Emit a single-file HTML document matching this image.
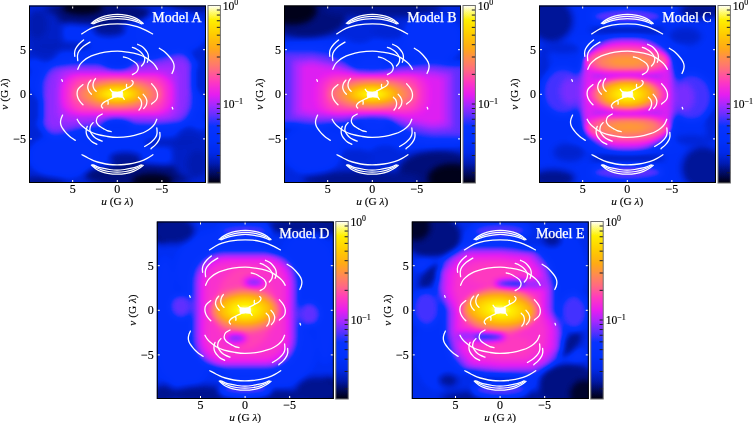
<!DOCTYPE html>
<html><head><meta charset="utf-8"><title>Models A-E</title>
<style>
html,body{margin:0;padding:0;background:#fff}
body{width:753px;height:423px;overflow:hidden;position:relative}
svg{position:absolute;left:0;top:0}
.t{font-family:"Liberation Serif","Times New Roman",serif;font-size:11.3px;fill:#000;stroke:#000;stroke-width:0.15px}
.tk{font-family:"Liberation Serif","Times New Roman",serif;font-size:12px;fill:#000;stroke:#000;stroke-width:0.15px}
.cb{font-family:"Liberation Serif","Times New Roman",serif;font-size:11.6px;fill:#000;stroke:#000;stroke-width:0.15px}
.ttl{font-family:"Liberation Serif","Times New Roman",serif;font-size:14px;fill:#fff;stroke:#fff;stroke-width:0.25px}
</style></head><body>
<svg width="753" height="423" viewBox="0 0 753 423">
<defs>
<linearGradient id="cbg" x1="0" y1="0" x2="0" y2="1"><stop offset="0" stop-color="#fff"/><stop offset="1" stop-color="#000"/></linearGradient>
<filter id="cm" color-interpolation-filters="sRGB"><feComponentTransfer>
<feFuncR type="table" tableValues="0 0 0 0 0 0 0 0 0 0 0 0 0 0 0 0 0 0 0 0 0 0 0 0 0 0.003922 0.007843 0.01176 0.01569 0.01961 0.02353 0.02745 0.03137 0.08824 0.1451 0.202 0.2588 0.3157 0.3725 0.4203 0.468 0.5157 0.5634 0.6111 0.6588 0.7007 0.7425 0.7843 0.8261 0.868 0.9098 0.9227 0.9356 0.9485 0.9613 0.9742 0.9871 1 1 1 1 1 1 1 1 1 1 1 1 1 1 1 1 1 1 1 1 1 1 1 1 1 1 1 1 1 1 1 1 1 1 1 1 1 1 1 1 1 1 1 1"/><feFuncG type="table" tableValues="0 0.006536 0.01307 0.01961 0.02941 0.03922 0.04902 0.05882 0.07157 0.08431 0.09706 0.1098 0.119 0.1281 0.1373 0.1464 0.1556 0.1647 0.1692 0.1737 0.1782 0.1826 0.1871 0.1916 0.1961 0.1971 0.198 0.199 0.2 0.201 0.202 0.2029 0.2039 0.2013 0.1987 0.1961 0.1935 0.1908 0.1882 0.183 0.1778 0.1725 0.1673 0.1621 0.1569 0.1503 0.1438 0.1373 0.1307 0.1242 0.1176 0.1333 0.149 0.1647 0.1804 0.1961 0.2118 0.2275 0.2555 0.2835 0.3115 0.3395 0.3675 0.3955 0.4235 0.4444 0.4654 0.4863 0.5072 0.5281 0.549 0.5686 0.5882 0.6078 0.6275 0.6471 0.6667 0.6838 0.701 0.7181 0.7353 0.7525 0.7696 0.7868 0.8039 0.8211 0.8382 0.8554 0.8725 0.8897 0.9069 0.924 0.9412 0.9529 0.9647 0.9765 0.9882 0.9912 0.9941 0.9971 1"/><feFuncB type="table" tableValues="0.05882 0.1176 0.1765 0.2353 0.2941 0.3529 0.4118 0.4706 0.5294 0.5882 0.6471 0.7059 0.7418 0.7778 0.8137 0.8497 0.8856 0.9216 0.9311 0.9406 0.9501 0.9597 0.9692 0.9787 0.9882 0.9897 0.9912 0.9926 0.9941 0.9956 0.9971 0.9985 1 1 1 1 1 1 1 1 1 1 1 1 1 0.9902 0.9804 0.9706 0.9608 0.951 0.9412 0.9143 0.8874 0.8605 0.8336 0.8067 0.7798 0.7529 0.7171 0.6812 0.6454 0.6095 0.5737 0.5378 0.502 0.4706 0.4392 0.4078 0.3765 0.3451 0.3137 0.2758 0.2379 0.2 0.1621 0.1242 0.08627 0.07549 0.06471 0.05392 0.04314 0.03235 0.02157 0.01078 0 0 0 0 0 0 0 0 0 0.1078 0.2157 0.3235 0.4314 0.5735 0.7157 0.8578 1"/>
</feComponentTransfer></filter>
<radialGradient id="coreA"><stop offset="0" stop-color="rgb(255,255,255)" stop-opacity="1"/><stop offset="0.13" stop-color="rgb(245,245,245)" stop-opacity="1"/><stop offset="0.37" stop-color="rgb(219,219,219)" stop-opacity="1"/><stop offset="0.55" stop-color="rgb(191,191,191)" stop-opacity="1"/><stop offset="0.8" stop-color="rgb(168,168,168)" stop-opacity="1"/><stop offset="1" stop-color="rgb(153,153,153)" stop-opacity="1"/></radialGradient><radialGradient id="coreC"><stop offset="0" stop-color="rgb(255,255,255)" stop-opacity="1"/><stop offset="0.13" stop-color="rgb(245,245,245)" stop-opacity="1"/><stop offset="0.5" stop-color="rgb(217,217,217)" stop-opacity="1"/><stop offset="0.78" stop-color="rgb(191,191,191)" stop-opacity="1"/><stop offset="1" stop-color="rgb(158,158,158)" stop-opacity="1"/></radialGradient><radialGradient id="coreD"><stop offset="0" stop-color="rgb(255,255,255)" stop-opacity="1"/><stop offset="0.2" stop-color="rgb(245,245,245)" stop-opacity="1"/><stop offset="0.65" stop-color="rgb(217,217,217)" stop-opacity="1"/><stop offset="1" stop-color="rgb(191,191,191)" stop-opacity="1"/></radialGradient>
<clipPath id="clipbox"><rect x="0" y="0" width="177" height="177.5"/></clipPath>
<g id="uv" fill="none" stroke="#fff" stroke-width="1.3" stroke-linecap="round">
<g><path d="M-26.00 -71.00C-25.22 -71.57 -22.92 -73.40 -21.30 -74.40C-19.68 -75.40 -18.30 -76.23 -16.30 -77.00C-14.30 -77.77 -12.05 -78.52 -9.30 -79.00C-6.55 -79.48 -2.97 -79.90 0.20 -79.90C3.37 -79.90 6.95 -79.48 9.70 -79.00C12.45 -78.52 14.70 -77.77 16.70 -77.00C18.70 -76.23 20.17 -75.43 21.70 -74.40C23.23 -73.37 25.20 -71.40 25.90 -70.80" stroke-width="1.25"/><path d="M-24.80 -70.70C-24.05 -71.17 -21.88 -72.70 -20.30 -73.50C-18.72 -74.30 -17.30 -74.88 -15.30 -75.50C-13.30 -76.12 -10.88 -76.80 -8.30 -77.20C-5.72 -77.60 -2.63 -77.90 0.20 -77.90C3.03 -77.90 6.12 -77.60 8.70 -77.20C11.28 -76.80 13.70 -76.12 15.70 -75.50C17.70 -74.88 19.12 -74.32 20.70 -73.50C22.28 -72.68 24.45 -71.08 25.20 -70.60" stroke-width="1.25"/><path d="M-23.80 -70.50C-23.05 -70.83 -20.88 -71.93 -19.30 -72.50C-17.72 -73.07 -16.30 -73.45 -14.30 -73.90C-12.30 -74.35 -9.72 -74.88 -7.30 -75.20C-4.88 -75.52 -2.30 -75.80 0.20 -75.80C2.70 -75.80 5.28 -75.52 7.70 -75.20C10.12 -74.88 12.70 -74.35 14.70 -73.90C16.70 -73.45 18.12 -73.08 19.70 -72.50C21.28 -71.92 23.45 -70.75 24.20 -70.40" stroke-width="1.25"/><path d="M-35.60 -60.40C-34.63 -61.02 -31.90 -62.98 -29.80 -64.10C-27.70 -65.22 -25.42 -66.27 -23.00 -67.10C-20.58 -67.93 -17.92 -68.58 -15.30 -69.10C-12.68 -69.62 -9.88 -69.97 -7.30 -70.20C-4.72 -70.43 -2.30 -70.50 0.20 -70.50C2.70 -70.50 5.12 -70.50 7.70 -70.20C10.28 -69.90 13.12 -69.32 15.70 -68.70C18.28 -68.08 20.95 -67.33 23.20 -66.50C25.45 -65.67 27.18 -64.72 29.20 -63.70C31.22 -62.68 34.28 -60.95 35.30 -60.40"/><path d="M-33.70 -54.40C-34.50 -53.68 -37.15 -51.62 -38.50 -50.10C-39.85 -48.58 -41.10 -46.68 -41.80 -45.30C-42.50 -43.92 -42.58 -43.02 -42.70 -41.80C-42.82 -40.58 -42.53 -38.63 -42.50 -38.00"/><path d="M-27.30 -52.20C-28.38 -51.50 -31.97 -49.52 -33.80 -48.00C-35.63 -46.48 -37.30 -44.63 -38.30 -43.10C-39.30 -41.57 -39.60 -40.38 -39.80 -38.80C-40.00 -37.22 -39.55 -34.47 -39.50 -33.60"/><path d="M-39.50 -25.00C-39.13 -25.80 -38.27 -28.37 -37.30 -29.80C-36.33 -31.23 -35.12 -32.42 -33.70 -33.60C-32.28 -34.78 -30.58 -35.93 -28.80 -36.90C-27.02 -37.87 -25.73 -38.53 -23.00 -39.40C-20.27 -40.27 -16.27 -41.48 -12.40 -42.10C-8.53 -42.72 -3.58 -43.10 0.20 -43.10C3.98 -43.10 6.83 -42.63 10.30 -42.10C13.77 -41.57 17.98 -40.80 21.00 -39.90C24.02 -39.00 26.10 -38.02 28.40 -36.70C30.70 -35.38 33.17 -33.40 34.80 -32.00C36.43 -30.60 37.32 -29.47 38.20 -28.30C39.08 -27.13 39.78 -25.55 40.10 -25.00"/><path d="M20.40 -50.00C21.12 -49.63 23.53 -48.58 24.70 -47.80C25.87 -47.02 26.52 -46.30 27.40 -45.30C28.28 -44.30 29.38 -42.97 30.00 -41.80C30.62 -40.63 30.95 -39.47 31.10 -38.30C31.25 -37.13 31.08 -35.85 30.90 -34.80C30.72 -33.75 30.15 -32.47 30.00 -32.00"/><path d="M15.10 -46.90C15.82 -46.60 18.07 -45.82 19.40 -45.10C20.73 -44.38 22.02 -43.57 23.10 -42.60C24.18 -41.63 25.18 -40.37 25.90 -39.30C26.62 -38.23 27.18 -37.20 27.40 -36.20C27.62 -35.20 27.38 -34.18 27.20 -33.30C27.02 -32.42 26.80 -31.73 26.30 -30.90C25.80 -30.07 24.55 -28.73 24.20 -28.30"/><path d="M6.10 -37.30C6.78 -37.13 8.97 -36.75 10.20 -36.30C11.43 -35.85 12.38 -35.23 13.50 -34.60C14.62 -33.97 15.92 -33.20 16.90 -32.50C17.88 -31.80 18.72 -31.38 19.40 -30.40C20.08 -29.42 21.00 -27.93 21.00 -26.60C21.00 -25.27 20.38 -23.55 19.40 -22.40C18.42 -21.25 15.82 -20.15 15.10 -19.70"/><path d="M42.00 -46.00C42.67 -45.58 44.77 -44.42 46.00 -43.50C47.23 -42.58 48.35 -41.53 49.40 -40.50C50.45 -39.47 51.42 -38.37 52.30 -37.30C53.18 -36.23 54.03 -35.17 54.70 -34.10C55.37 -33.03 55.95 -31.97 56.30 -30.90C56.65 -29.83 56.82 -28.80 56.80 -27.70C56.78 -26.60 56.55 -25.45 56.20 -24.30C55.85 -23.15 54.95 -21.38 54.70 -20.80"/><path d="M-55.50 -14.70L-54.90 -13.00"/><path d="M-26.40 -14.20C-26.78 -13.68 -28.17 -12.25 -28.70 -11.10C-29.23 -9.95 -29.53 -8.35 -29.60 -7.30C-29.67 -6.25 -29.37 -5.60 -29.10 -4.80C-28.83 -4.00 -28.53 -3.30 -28.00 -2.50C-27.47 -1.70 -26.25 -0.42 -25.90 0.00"/><path d="M-21.70 -15.80C-22.00 -15.35 -23.07 -14.10 -23.50 -13.10C-23.93 -12.10 -24.22 -10.80 -24.30 -9.80C-24.38 -8.80 -24.22 -7.92 -24.00 -7.10C-23.78 -6.28 -23.48 -5.58 -23.00 -4.90C-22.52 -4.22 -21.42 -3.32 -21.10 -3.00"/><path d="M34.30 -10.50C34.75 -10.00 36.20 -8.57 37.00 -7.50C37.80 -6.43 38.58 -5.22 39.10 -4.10C39.62 -2.98 39.93 -1.87 40.10 -0.80C40.27 0.27 40.22 1.38 40.10 2.30C39.98 3.22 39.75 3.98 39.40 4.70C39.05 5.42 38.85 5.77 38.00 6.60C37.15 7.43 34.92 9.18 34.30 9.70"/><path d="M4.20 -3.30C4.70 -3.53 6.28 -4.23 7.20 -4.70C8.12 -5.17 8.87 -5.67 9.70 -6.10C10.53 -6.53 11.45 -6.87 12.20 -7.30C12.95 -7.73 13.62 -8.12 14.20 -8.70C14.78 -9.28 15.45 -10.17 15.70 -10.80C15.95 -11.43 15.88 -12.02 15.70 -12.50C15.52 -12.98 14.78 -13.50 14.60 -13.70"/><path d="M9.70 -6.10C9.60 -6.42 9.17 -7.37 9.10 -8.00C9.03 -8.63 9.27 -9.58 9.30 -9.90"/><path d="M-5.50 -2.90L-7.00 -5.00"/></g><g transform="rotate(180)"><path d="M-26.00 -71.00C-25.22 -71.57 -22.92 -73.40 -21.30 -74.40C-19.68 -75.40 -18.30 -76.23 -16.30 -77.00C-14.30 -77.77 -12.05 -78.52 -9.30 -79.00C-6.55 -79.48 -2.97 -79.90 0.20 -79.90C3.37 -79.90 6.95 -79.48 9.70 -79.00C12.45 -78.52 14.70 -77.77 16.70 -77.00C18.70 -76.23 20.17 -75.43 21.70 -74.40C23.23 -73.37 25.20 -71.40 25.90 -70.80" stroke-width="1.25"/><path d="M-24.80 -70.70C-24.05 -71.17 -21.88 -72.70 -20.30 -73.50C-18.72 -74.30 -17.30 -74.88 -15.30 -75.50C-13.30 -76.12 -10.88 -76.80 -8.30 -77.20C-5.72 -77.60 -2.63 -77.90 0.20 -77.90C3.03 -77.90 6.12 -77.60 8.70 -77.20C11.28 -76.80 13.70 -76.12 15.70 -75.50C17.70 -74.88 19.12 -74.32 20.70 -73.50C22.28 -72.68 24.45 -71.08 25.20 -70.60" stroke-width="1.25"/><path d="M-23.80 -70.50C-23.05 -70.83 -20.88 -71.93 -19.30 -72.50C-17.72 -73.07 -16.30 -73.45 -14.30 -73.90C-12.30 -74.35 -9.72 -74.88 -7.30 -75.20C-4.88 -75.52 -2.30 -75.80 0.20 -75.80C2.70 -75.80 5.28 -75.52 7.70 -75.20C10.12 -74.88 12.70 -74.35 14.70 -73.90C16.70 -73.45 18.12 -73.08 19.70 -72.50C21.28 -71.92 23.45 -70.75 24.20 -70.40" stroke-width="1.25"/><path d="M-35.60 -60.40C-34.63 -61.02 -31.90 -62.98 -29.80 -64.10C-27.70 -65.22 -25.42 -66.27 -23.00 -67.10C-20.58 -67.93 -17.92 -68.58 -15.30 -69.10C-12.68 -69.62 -9.88 -69.97 -7.30 -70.20C-4.72 -70.43 -2.30 -70.50 0.20 -70.50C2.70 -70.50 5.12 -70.50 7.70 -70.20C10.28 -69.90 13.12 -69.32 15.70 -68.70C18.28 -68.08 20.95 -67.33 23.20 -66.50C25.45 -65.67 27.18 -64.72 29.20 -63.70C31.22 -62.68 34.28 -60.95 35.30 -60.40"/><path d="M-33.70 -54.40C-34.50 -53.68 -37.15 -51.62 -38.50 -50.10C-39.85 -48.58 -41.10 -46.68 -41.80 -45.30C-42.50 -43.92 -42.58 -43.02 -42.70 -41.80C-42.82 -40.58 -42.53 -38.63 -42.50 -38.00"/><path d="M-27.30 -52.20C-28.38 -51.50 -31.97 -49.52 -33.80 -48.00C-35.63 -46.48 -37.30 -44.63 -38.30 -43.10C-39.30 -41.57 -39.60 -40.38 -39.80 -38.80C-40.00 -37.22 -39.55 -34.47 -39.50 -33.60"/><path d="M-39.50 -25.00C-39.13 -25.80 -38.27 -28.37 -37.30 -29.80C-36.33 -31.23 -35.12 -32.42 -33.70 -33.60C-32.28 -34.78 -30.58 -35.93 -28.80 -36.90C-27.02 -37.87 -25.73 -38.53 -23.00 -39.40C-20.27 -40.27 -16.27 -41.48 -12.40 -42.10C-8.53 -42.72 -3.58 -43.10 0.20 -43.10C3.98 -43.10 6.83 -42.63 10.30 -42.10C13.77 -41.57 17.98 -40.80 21.00 -39.90C24.02 -39.00 26.10 -38.02 28.40 -36.70C30.70 -35.38 33.17 -33.40 34.80 -32.00C36.43 -30.60 37.32 -29.47 38.20 -28.30C39.08 -27.13 39.78 -25.55 40.10 -25.00"/><path d="M20.40 -50.00C21.12 -49.63 23.53 -48.58 24.70 -47.80C25.87 -47.02 26.52 -46.30 27.40 -45.30C28.28 -44.30 29.38 -42.97 30.00 -41.80C30.62 -40.63 30.95 -39.47 31.10 -38.30C31.25 -37.13 31.08 -35.85 30.90 -34.80C30.72 -33.75 30.15 -32.47 30.00 -32.00"/><path d="M15.10 -46.90C15.82 -46.60 18.07 -45.82 19.40 -45.10C20.73 -44.38 22.02 -43.57 23.10 -42.60C24.18 -41.63 25.18 -40.37 25.90 -39.30C26.62 -38.23 27.18 -37.20 27.40 -36.20C27.62 -35.20 27.38 -34.18 27.20 -33.30C27.02 -32.42 26.80 -31.73 26.30 -30.90C25.80 -30.07 24.55 -28.73 24.20 -28.30"/><path d="M6.10 -37.30C6.78 -37.13 8.97 -36.75 10.20 -36.30C11.43 -35.85 12.38 -35.23 13.50 -34.60C14.62 -33.97 15.92 -33.20 16.90 -32.50C17.88 -31.80 18.72 -31.38 19.40 -30.40C20.08 -29.42 21.00 -27.93 21.00 -26.60C21.00 -25.27 20.38 -23.55 19.40 -22.40C18.42 -21.25 15.82 -20.15 15.10 -19.70"/><path d="M42.00 -46.00C42.67 -45.58 44.77 -44.42 46.00 -43.50C47.23 -42.58 48.35 -41.53 49.40 -40.50C50.45 -39.47 51.42 -38.37 52.30 -37.30C53.18 -36.23 54.03 -35.17 54.70 -34.10C55.37 -33.03 55.95 -31.97 56.30 -30.90C56.65 -29.83 56.82 -28.80 56.80 -27.70C56.78 -26.60 56.55 -25.45 56.20 -24.30C55.85 -23.15 54.95 -21.38 54.70 -20.80"/><path d="M-55.50 -14.70L-54.90 -13.00"/><path d="M-26.40 -14.20C-26.78 -13.68 -28.17 -12.25 -28.70 -11.10C-29.23 -9.95 -29.53 -8.35 -29.60 -7.30C-29.67 -6.25 -29.37 -5.60 -29.10 -4.80C-28.83 -4.00 -28.53 -3.30 -28.00 -2.50C-27.47 -1.70 -26.25 -0.42 -25.90 0.00"/><path d="M-21.70 -15.80C-22.00 -15.35 -23.07 -14.10 -23.50 -13.10C-23.93 -12.10 -24.22 -10.80 -24.30 -9.80C-24.38 -8.80 -24.22 -7.92 -24.00 -7.10C-23.78 -6.28 -23.48 -5.58 -23.00 -4.90C-22.52 -4.22 -21.42 -3.32 -21.10 -3.00"/><path d="M34.30 -10.50C34.75 -10.00 36.20 -8.57 37.00 -7.50C37.80 -6.43 38.58 -5.22 39.10 -4.10C39.62 -2.98 39.93 -1.87 40.10 -0.80C40.27 0.27 40.22 1.38 40.10 2.30C39.98 3.22 39.75 3.98 39.40 4.70C39.05 5.42 38.85 5.77 38.00 6.60C37.15 7.43 34.92 9.18 34.30 9.70"/><path d="M4.20 -3.30C4.70 -3.53 6.28 -4.23 7.20 -4.70C8.12 -5.17 8.87 -5.67 9.70 -6.10C10.53 -6.53 11.45 -6.87 12.20 -7.30C12.95 -7.73 13.62 -8.12 14.20 -8.70C14.78 -9.28 15.45 -10.17 15.70 -10.80C15.95 -11.43 15.88 -12.02 15.70 -12.50C15.52 -12.98 14.78 -13.50 14.60 -13.70"/><path d="M9.70 -6.10C9.60 -6.42 9.17 -7.37 9.10 -8.00C9.03 -8.63 9.27 -9.58 9.30 -9.90"/><path d="M-5.50 -2.90L-7.00 -5.00"/></g>
<path d="M-5,-2.7 Q0,-1.5 5,-3.1 Q5.7,0 5.4,3.1 Q0,2 -4.6,3.4 Q-5.6,0.4 -5,-2.7Z" fill="#fff" stroke="#fff" stroke-width="0.8"/>
</g>
</defs>

<filter id="fA" x="-0.2" y="-0.2" width="1.4" height="1.4" color-interpolation-filters="sRGB"><feGaussianBlur stdDeviation="3"/><feComponentTransfer><feFuncR type="table" tableValues="0 0 0 0 0 0 0 0 0 0 0 0 0 0 0 0 0 0 0 0 0 0 0 0 0 0.003922 0.007843 0.01176 0.01569 0.01961 0.02353 0.02745 0.03137 0.08824 0.1451 0.202 0.2588 0.3157 0.3725 0.4203 0.468 0.5157 0.5634 0.6111 0.6588 0.7007 0.7425 0.7843 0.8261 0.868 0.9098 0.9227 0.9356 0.9485 0.9613 0.9742 0.9871 1 1 1 1 1 1 1 1 1 1 1 1 1 1 1 1 1 1 1 1 1 1 1 1 1 1 1 1 1 1 1 1 1 1 1 1 1 1 1 1 1 1 1 1"/><feFuncG type="table" tableValues="0 0.003137 0.006275 0.009412 0.01255 0.01569 0.02353 0.03137 0.03922 0.04706 0.0549 0.06499 0.07507 0.08515 0.09524 0.1053 0.1154 0.1255 0.1345 0.1434 0.1524 0.1613 0.1703 0.1793 0.1882 0.1902 0.1922 0.1941 0.1961 0.198 0.2 0.202 0.2039 0.2013 0.1987 0.1961 0.1935 0.1908 0.1882 0.183 0.1778 0.1725 0.1673 0.1621 0.1569 0.1503 0.1438 0.1373 0.1307 0.1242 0.1176 0.1333 0.149 0.1647 0.1804 0.1961 0.2118 0.2275 0.2555 0.2835 0.3115 0.3395 0.3675 0.3955 0.4235 0.4444 0.4654 0.4863 0.5072 0.5281 0.549 0.5686 0.5882 0.6078 0.6275 0.6471 0.6667 0.6838 0.701 0.7181 0.7353 0.7525 0.7696 0.7868 0.8039 0.8211 0.8382 0.8554 0.8725 0.8897 0.9069 0.924 0.9412 0.9529 0.9647 0.9765 0.9882 0.9912 0.9941 0.9971 1"/><feFuncB type="table" tableValues="0.03137 0.06824 0.1051 0.142 0.1788 0.2157 0.2667 0.3176 0.3686 0.4196 0.4706 0.5154 0.5602 0.605 0.6499 0.6947 0.7395 0.7843 0.8123 0.8403 0.8683 0.8964 0.9244 0.9524 0.9804 0.9828 0.9853 0.9877 0.9902 0.9926 0.9951 0.9975 1 1 1 1 1 1 1 1 1 1 1 1 1 0.9902 0.9804 0.9706 0.9608 0.951 0.9412 0.9143 0.8874 0.8605 0.8336 0.8067 0.7798 0.7529 0.7171 0.6812 0.6454 0.6095 0.5737 0.5378 0.502 0.4706 0.4392 0.4078 0.3765 0.3451 0.3137 0.2758 0.2379 0.2 0.1621 0.1242 0.08627 0.07549 0.06471 0.05392 0.04314 0.03235 0.02157 0.01078 0 0 0 0 0 0 0 0 0 0.1078 0.2157 0.3235 0.4314 0.5735 0.7157 0.8578 1"/></feComponentTransfer></filter>
<g transform="translate(29 5.5)">
<g clip-path="url(#clipbox)"><g filter="url(#fA)"><rect x="-30" y="-30" width="237" height="237.5" fill="rgb(48,48,48)"/><g transform="translate(88.3 88.8)"><ellipse cx="-10" cy="-50" rx="60" ry="26" fill="rgb(66,66,66)"/><ellipse cx="55" cy="-62" rx="34" ry="22" fill="rgb(69,69,69)"/><ellipse cx="-5" cy="-30" rx="86" ry="12" fill="rgb(69,69,69)"/><ellipse cx="-60" cy="-12" rx="30" ry="20" fill="rgb(66,66,66)"/><g transform="rotate(180)"><ellipse cx="-10" cy="-50" rx="60" ry="26" fill="rgb(66,66,66)"/><ellipse cx="55" cy="-62" rx="34" ry="22" fill="rgb(69,69,69)"/><ellipse cx="-5" cy="-30" rx="86" ry="12" fill="rgb(69,69,69)"/><ellipse cx="-60" cy="-12" rx="30" ry="20" fill="rgb(66,66,66)"/></g><ellipse cx="-22" cy="-81" rx="55" ry="12" fill="rgb(26,26,26)"/><ellipse cx="-35" cy="-87" rx="20" ry="7" fill="rgb(5,5,5)"/><ellipse cx="75" cy="-88" rx="24" ry="6" fill="rgb(31,31,31)"/><ellipse cx="-72" cy="-58" rx="18" ry="26" fill="rgb(43,43,43)"/><ellipse cx="-80" cy="-70" rx="10" ry="14" fill="rgb(38,38,38)"/><ellipse cx="-55" cy="-48" rx="30" ry="5" fill="rgb(41,41,41)"/><ellipse cx="-8" cy="-64" rx="17" ry="7" fill="rgb(33,33,33)"/><g transform="rotate(180)"><ellipse cx="-22" cy="-81" rx="55" ry="12" fill="rgb(26,26,26)"/><ellipse cx="-35" cy="-87" rx="20" ry="7" fill="rgb(5,5,5)"/><ellipse cx="75" cy="-88" rx="24" ry="6" fill="rgb(31,31,31)"/><ellipse cx="-72" cy="-58" rx="18" ry="26" fill="rgb(43,43,43)"/><ellipse cx="-80" cy="-70" rx="10" ry="14" fill="rgb(38,38,38)"/><ellipse cx="-55" cy="-48" rx="30" ry="5" fill="rgb(41,41,41)"/><ellipse cx="-8" cy="-64" rx="17" ry="7" fill="rgb(33,33,33)"/></g><path d="M-76,0 L-76,-12 L-72,-22 L-65,-29 L-43,-31 L-18,-31 L-8,-27 L2,-29 L17,-33 L37,-35 L52,-40 L62,-42 L72,-40 L76,-30 L76,0 L76,0 L76,12 L72,22 L65,29 L43,31 L18,31 L8,27 L-2,29 L-17,33 L-37,35 L-52,40 L-62,42 L-72,40 L-76,30 L-76,0Z" fill="rgb(97,97,97)"/><path d="M-72,0 L-70,-14 L-66,-21 L-58,-26 L-43,-28 L-18,-28 L-8,-25 L2,-27 L17,-30 L37,-32 L52,-35 L62,-36 L70,-33 L72,-26 L72,0 L72,0 L70,14 L66,21 L58,26 L43,28 L18,28 L8,25 L-2,27 L-17,30 L-37,32 L-52,35 L-62,36 L-70,33 L-72,26 L-72,0Z" fill="rgb(107,107,107)"/><path d="M-60,0 L-59,-18 L-54,-24 L-40,-25 L-18,-24 L18,-25 L40,-27 L54,-27 L60,-20 L60,0 L60,0 L59,18 L54,24 L40,25 L18,24 L-18,25 L-40,27 L-54,27 L-60,20 L-60,0Z" fill="rgb(115,115,115)"/><ellipse cx="1" cy="-32" rx="14" ry="7" fill="rgb(61,61,61)"/><g transform="rotate(180)"><ellipse cx="1" cy="-32" rx="14" ry="7" fill="rgb(61,61,61)"/></g><rect x="-56" y="-20" width="112" height="40" rx="15" fill="rgb(133,133,133)"/><rect x="-48" y="-18" width="96" height="36" rx="14" fill="rgb(148,148,148)"/><ellipse cx="0" cy="-0.3" rx="46" ry="16" fill="url(#coreA)"/></g></g>
<use href="#uv" transform="translate(88.3 88.8)"/>
<path d="M43.70 0v3M43.70 177.50v-3M0 44.20h3M177.00 44.20h-3M88.30 0v3M88.30 177.50v-3M0 88.80h3M177.00 88.80h-3M132.90 0v3M132.90 177.50v-3M0 133.40h3M177.00 133.40h-3" stroke="#fff" stroke-width="1"/>
<text x="172.7" y="16" text-anchor="end" class="ttl">Model A</text>
</g>
<rect x="0.5" y="0.5" width="176" height="176.5" fill="none" stroke="#000" stroke-width="1"/>
</g>
<rect x="208.00" y="5.50" width="12.4" height="177.50" fill="url(#cbg)" filter="url(#cm)"/><line x1="216.80" x2="220.40" y1="104.00" y2="104.00" stroke="#1a1a2a" stroke-width="1"/><line x1="216.80" x2="220.40" y1="74.35" y2="74.35" stroke="#1a1a2a" stroke-width="1"/><line x1="216.80" x2="220.40" y1="57.00" y2="57.00" stroke="#1a1a2a" stroke-width="1"/><line x1="216.80" x2="220.40" y1="44.70" y2="44.70" stroke="#1a1a2a" stroke-width="1"/><line x1="216.80" x2="220.40" y1="35.15" y2="35.15" stroke="#1a1a2a" stroke-width="1"/><line x1="216.80" x2="220.40" y1="27.35" y2="27.35" stroke="#1a1a2a" stroke-width="1"/><line x1="216.80" x2="220.40" y1="20.76" y2="20.76" stroke="#1a1a2a" stroke-width="1"/><line x1="216.80" x2="220.40" y1="15.05" y2="15.05" stroke="#1a1a2a" stroke-width="1"/><line x1="216.80" x2="220.40" y1="10.01" y2="10.01" stroke="#1a1a2a" stroke-width="1"/><line x1="216.80" x2="220.40" y1="172.85" y2="172.85" stroke="#1a1a2a" stroke-width="1"/><line x1="216.80" x2="220.40" y1="155.50" y2="155.50" stroke="#1a1a2a" stroke-width="1"/><line x1="216.80" x2="220.40" y1="143.20" y2="143.20" stroke="#1a1a2a" stroke-width="1"/><line x1="216.80" x2="220.40" y1="133.65" y2="133.65" stroke="#1a1a2a" stroke-width="1"/><line x1="216.80" x2="220.40" y1="125.85" y2="125.85" stroke="#1a1a2a" stroke-width="1"/><line x1="216.80" x2="220.40" y1="119.26" y2="119.26" stroke="#1a1a2a" stroke-width="1"/><line x1="216.80" x2="220.40" y1="113.55" y2="113.55" stroke="#1a1a2a" stroke-width="1"/><line x1="216.80" x2="220.40" y1="108.51" y2="108.51" stroke="#1a1a2a" stroke-width="1"/><rect x="208.00" y="5.50" width="12.4" height="177.50" fill="none" stroke="#707070" stroke-width="1"/><text x="222.70" y="9.60" class="cb">10<tspan dy="-4.2" font-size="7.8">0</tspan></text><text x="222.90" y="108.10" class="cb">10<tspan dy="-4.6" font-size="8">−1</tspan></text>
<text x="72.70" y="193.10" text-anchor="middle" class="tk">5</text><text x="117.30" y="193.10" text-anchor="middle" class="tk">0</text><text x="161.90" y="193.10" text-anchor="middle" class="tk">−5</text><text x="26.00" y="53.50" text-anchor="end" class="tk">5</text><text x="26.00" y="98.10" text-anchor="end" class="tk">0</text><text x="26.00" y="142.70" text-anchor="end" class="tk">−5</text><text x="117.30" y="204.80" text-anchor="middle" class="t"><tspan font-style="italic">u</tspan> (G <tspan font-style="italic">λ</tspan>)</text><text transform="translate(8.20 94.00) rotate(-90)" text-anchor="middle" class="t"><tspan font-style="italic">v</tspan> (G <tspan font-style="italic">λ</tspan>)</text>
<filter id="fB" x="-0.2" y="-0.2" width="1.4" height="1.4" color-interpolation-filters="sRGB"><feGaussianBlur stdDeviation="3"/><feComponentTransfer><feFuncR type="table" tableValues="0 0 0 0 0 0 0 0 0 0 0 0 0 0 0 0 0 0 0 0 0 0 0 0 0 0.003922 0.007843 0.01176 0.01569 0.01961 0.02353 0.02745 0.03137 0.08824 0.1451 0.202 0.2588 0.3157 0.3725 0.4203 0.468 0.5157 0.5634 0.6111 0.6588 0.7007 0.7425 0.7843 0.8261 0.868 0.9098 0.9227 0.9356 0.9485 0.9613 0.9742 0.9871 1 1 1 1 1 1 1 1 1 1 1 1 1 1 1 1 1 1 1 1 1 1 1 1 1 1 1 1 1 1 1 1 1 1 1 1 1 1 1 1 1 1 1 1"/><feFuncG type="table" tableValues="0 0.003137 0.006275 0.009412 0.01255 0.01569 0.02353 0.03137 0.03922 0.04706 0.0549 0.06499 0.07507 0.08515 0.09524 0.1053 0.1154 0.1255 0.1345 0.1434 0.1524 0.1613 0.1703 0.1793 0.1882 0.1902 0.1922 0.1941 0.1961 0.198 0.2 0.202 0.2039 0.2013 0.1987 0.1961 0.1935 0.1908 0.1882 0.183 0.1778 0.1725 0.1673 0.1621 0.1569 0.1503 0.1438 0.1373 0.1307 0.1242 0.1176 0.1333 0.149 0.1647 0.1804 0.1961 0.2118 0.2275 0.2555 0.2835 0.3115 0.3395 0.3675 0.3955 0.4235 0.4444 0.4654 0.4863 0.5072 0.5281 0.549 0.5686 0.5882 0.6078 0.6275 0.6471 0.6667 0.6838 0.701 0.7181 0.7353 0.7525 0.7696 0.7868 0.8039 0.8211 0.8382 0.8554 0.8725 0.8897 0.9069 0.924 0.9412 0.9529 0.9647 0.9765 0.9882 0.9912 0.9941 0.9971 1"/><feFuncB type="table" tableValues="0.03137 0.06824 0.1051 0.142 0.1788 0.2157 0.2667 0.3176 0.3686 0.4196 0.4706 0.5154 0.5602 0.605 0.6499 0.6947 0.7395 0.7843 0.8123 0.8403 0.8683 0.8964 0.9244 0.9524 0.9804 0.9828 0.9853 0.9877 0.9902 0.9926 0.9951 0.9975 1 1 1 1 1 1 1 1 1 1 1 1 1 0.9902 0.9804 0.9706 0.9608 0.951 0.9412 0.9143 0.8874 0.8605 0.8336 0.8067 0.7798 0.7529 0.7171 0.6812 0.6454 0.6095 0.5737 0.5378 0.502 0.4706 0.4392 0.4078 0.3765 0.3451 0.3137 0.2758 0.2379 0.2 0.1621 0.1242 0.08627 0.07549 0.06471 0.05392 0.04314 0.03235 0.02157 0.01078 0 0 0 0 0 0 0 0 0 0.1078 0.2157 0.3235 0.4314 0.5735 0.7157 0.8578 1"/></feComponentTransfer></filter>
<g transform="translate(284 5.5)">
<g clip-path="url(#clipbox)"><g filter="url(#fB)"><rect x="-30" y="-30" width="237" height="237.5" fill="rgb(51,51,51)"/><g transform="translate(88.3 88.8)"><ellipse cx="-10" cy="-44" rx="80" ry="12" fill="rgb(66,66,66)"/><ellipse cx="60" cy="-55" rx="30" ry="25" fill="rgb(69,69,69)"/><ellipse cx="-70" cy="-44" rx="30" ry="8" fill="rgb(76,76,76)"/><g transform="rotate(180)"><ellipse cx="-10" cy="-44" rx="80" ry="12" fill="rgb(66,66,66)"/><ellipse cx="60" cy="-55" rx="30" ry="25" fill="rgb(69,69,69)"/><ellipse cx="-70" cy="-44" rx="30" ry="8" fill="rgb(76,76,76)"/></g><ellipse cx="-66" cy="-76" rx="40" ry="20" fill="rgb(26,26,26)"/><ellipse cx="-80" cy="-84" rx="24" ry="14" fill="rgb(5,5,5)"/><ellipse cx="10" cy="-85" rx="60" ry="9" fill="rgb(31,31,31)"/><ellipse cx="16" cy="-62" rx="16" ry="8" fill="rgb(48,48,48)"/><ellipse cx="-13" cy="-57" rx="14" ry="7" fill="rgb(51,51,51)"/><g transform="rotate(180)"><ellipse cx="-66" cy="-76" rx="40" ry="20" fill="rgb(26,26,26)"/><ellipse cx="-80" cy="-84" rx="24" ry="14" fill="rgb(5,5,5)"/><ellipse cx="10" cy="-85" rx="60" ry="9" fill="rgb(31,31,31)"/><ellipse cx="16" cy="-62" rx="16" ry="8" fill="rgb(48,48,48)"/><ellipse cx="-13" cy="-57" rx="14" ry="7" fill="rgb(51,51,51)"/></g><path d="M-95,0 L-95,-43 L-60,-43 L-41,-40 L-25,-32 L-15,-26 L0,-24 L15,-27 L25,-30 L41,-31 L60,-31 L95,-30 L95,0 L95,0 L95,43 L60,43 L41,40 L25,32 L15,26 L0,24 L-15,27 L-25,30 L-41,31 L-60,31 L-95,30 L-95,0Z" fill="rgb(97,97,97)"/><path d="M-80,0 L-80,-34 L-60,-36 L-35,-30 L-12,-22 L10,-22 L30,-25 L60,-25 L80,-22 L80,0 L80,0 L80,34 L60,36 L35,30 L12,22 L-10,22 L-30,25 L-60,25 L-80,22 L-80,0Z" fill="rgb(112,112,112)"/><path d="M-72,0 L-72,-29 L-60,-31 L-35,-26 L-12,-19 L10,-19 L30,-21 L60,-20 L72,-17 L72,0 L72,0 L72,29 L60,31 L35,26 L12,19 L-10,19 L-30,21 L-60,20 L-72,17 L-72,0Z" fill="rgb(125,125,125)"/><ellipse cx="-2" cy="-31" rx="14" ry="6" fill="rgb(76,76,76)"/><g transform="rotate(180)"><ellipse cx="-2" cy="-31" rx="14" ry="6" fill="rgb(76,76,76)"/></g><rect x="-56" y="-19" width="112" height="38" rx="14" fill="rgb(135,135,135)"/><rect x="-48" y="-18" width="96" height="36" rx="14" fill="rgb(148,148,148)"/><ellipse cx="0" cy="-0.3" rx="46" ry="16" fill="url(#coreA)"/></g></g>
<use href="#uv" transform="translate(88.3 88.8)"/>
<path d="M43.70 0v3M43.70 177.50v-3M0 44.20h3M177.00 44.20h-3M88.30 0v3M88.30 177.50v-3M0 88.80h3M177.00 88.80h-3M132.90 0v3M132.90 177.50v-3M0 133.40h3M177.00 133.40h-3" stroke="#fff" stroke-width="1"/>
<text x="172.7" y="16" text-anchor="end" class="ttl">Model B</text>
</g>
<rect x="0.5" y="0.5" width="176" height="176.5" fill="none" stroke="#000" stroke-width="1"/>
</g>
<rect x="463.00" y="5.50" width="12.4" height="177.50" fill="url(#cbg)" filter="url(#cm)"/><line x1="471.80" x2="475.40" y1="104.00" y2="104.00" stroke="#1a1a2a" stroke-width="1"/><line x1="471.80" x2="475.40" y1="74.35" y2="74.35" stroke="#1a1a2a" stroke-width="1"/><line x1="471.80" x2="475.40" y1="57.00" y2="57.00" stroke="#1a1a2a" stroke-width="1"/><line x1="471.80" x2="475.40" y1="44.70" y2="44.70" stroke="#1a1a2a" stroke-width="1"/><line x1="471.80" x2="475.40" y1="35.15" y2="35.15" stroke="#1a1a2a" stroke-width="1"/><line x1="471.80" x2="475.40" y1="27.35" y2="27.35" stroke="#1a1a2a" stroke-width="1"/><line x1="471.80" x2="475.40" y1="20.76" y2="20.76" stroke="#1a1a2a" stroke-width="1"/><line x1="471.80" x2="475.40" y1="15.05" y2="15.05" stroke="#1a1a2a" stroke-width="1"/><line x1="471.80" x2="475.40" y1="10.01" y2="10.01" stroke="#1a1a2a" stroke-width="1"/><line x1="471.80" x2="475.40" y1="172.85" y2="172.85" stroke="#1a1a2a" stroke-width="1"/><line x1="471.80" x2="475.40" y1="155.50" y2="155.50" stroke="#1a1a2a" stroke-width="1"/><line x1="471.80" x2="475.40" y1="143.20" y2="143.20" stroke="#1a1a2a" stroke-width="1"/><line x1="471.80" x2="475.40" y1="133.65" y2="133.65" stroke="#1a1a2a" stroke-width="1"/><line x1="471.80" x2="475.40" y1="125.85" y2="125.85" stroke="#1a1a2a" stroke-width="1"/><line x1="471.80" x2="475.40" y1="119.26" y2="119.26" stroke="#1a1a2a" stroke-width="1"/><line x1="471.80" x2="475.40" y1="113.55" y2="113.55" stroke="#1a1a2a" stroke-width="1"/><line x1="471.80" x2="475.40" y1="108.51" y2="108.51" stroke="#1a1a2a" stroke-width="1"/><rect x="463.00" y="5.50" width="12.4" height="177.50" fill="none" stroke="#707070" stroke-width="1"/><text x="477.70" y="9.60" class="cb">10<tspan dy="-4.2" font-size="7.8">0</tspan></text><text x="477.90" y="108.10" class="cb">10<tspan dy="-4.6" font-size="8">−1</tspan></text>
<text x="327.70" y="193.10" text-anchor="middle" class="tk">5</text><text x="372.30" y="193.10" text-anchor="middle" class="tk">0</text><text x="416.90" y="193.10" text-anchor="middle" class="tk">−5</text><text x="281.00" y="53.50" text-anchor="end" class="tk">5</text><text x="281.00" y="98.10" text-anchor="end" class="tk">0</text><text x="281.00" y="142.70" text-anchor="end" class="tk">−5</text><text x="372.30" y="204.80" text-anchor="middle" class="t"><tspan font-style="italic">u</tspan> (G <tspan font-style="italic">λ</tspan>)</text><text transform="translate(263.20 94.00) rotate(-90)" text-anchor="middle" class="t"><tspan font-style="italic">v</tspan> (G <tspan font-style="italic">λ</tspan>)</text>
<filter id="fC" x="-0.2" y="-0.2" width="1.4" height="1.4" color-interpolation-filters="sRGB"><feGaussianBlur stdDeviation="3"/><feComponentTransfer><feFuncR type="table" tableValues="0 0 0 0 0 0 0 0 0 0 0 0 0 0 0 0 0 0 0 0 0 0 0 0 0 0.003922 0.007843 0.01176 0.01569 0.01961 0.02353 0.02745 0.03137 0.08824 0.1451 0.202 0.2588 0.3157 0.3725 0.4203 0.468 0.5157 0.5634 0.6111 0.6588 0.7007 0.7425 0.7843 0.8261 0.868 0.9098 0.9227 0.9356 0.9485 0.9613 0.9742 0.9871 1 1 1 1 1 1 1 1 1 1 1 1 1 1 1 1 1 1 1 1 1 1 1 1 1 1 1 1 1 1 1 1 1 1 1 1 1 1 1 1 1 1 1 1"/><feFuncG type="table" tableValues="0 0.003137 0.006275 0.009412 0.01255 0.01569 0.02353 0.03137 0.03922 0.04706 0.0549 0.06499 0.07507 0.08515 0.09524 0.1053 0.1154 0.1255 0.1345 0.1434 0.1524 0.1613 0.1703 0.1793 0.1882 0.1902 0.1922 0.1941 0.1961 0.198 0.2 0.202 0.2039 0.2013 0.1987 0.1961 0.1935 0.1908 0.1882 0.183 0.1778 0.1725 0.1673 0.1621 0.1569 0.1503 0.1438 0.1373 0.1307 0.1242 0.1176 0.1333 0.149 0.1647 0.1804 0.1961 0.2118 0.2275 0.2555 0.2835 0.3115 0.3395 0.3675 0.3955 0.4235 0.4444 0.4654 0.4863 0.5072 0.5281 0.549 0.5686 0.5882 0.6078 0.6275 0.6471 0.6667 0.6838 0.701 0.7181 0.7353 0.7525 0.7696 0.7868 0.8039 0.8211 0.8382 0.8554 0.8725 0.8897 0.9069 0.924 0.9412 0.9529 0.9647 0.9765 0.9882 0.9912 0.9941 0.9971 1"/><feFuncB type="table" tableValues="0.03137 0.06824 0.1051 0.142 0.1788 0.2157 0.2667 0.3176 0.3686 0.4196 0.4706 0.5154 0.5602 0.605 0.6499 0.6947 0.7395 0.7843 0.8123 0.8403 0.8683 0.8964 0.9244 0.9524 0.9804 0.9828 0.9853 0.9877 0.9902 0.9926 0.9951 0.9975 1 1 1 1 1 1 1 1 1 1 1 1 1 0.9902 0.9804 0.9706 0.9608 0.951 0.9412 0.9143 0.8874 0.8605 0.8336 0.8067 0.7798 0.7529 0.7171 0.6812 0.6454 0.6095 0.5737 0.5378 0.502 0.4706 0.4392 0.4078 0.3765 0.3451 0.3137 0.2758 0.2379 0.2 0.1621 0.1242 0.08627 0.07549 0.06471 0.05392 0.04314 0.03235 0.02157 0.01078 0 0 0 0 0 0 0 0 0 0.1078 0.2157 0.3235 0.4314 0.5735 0.7157 0.8578 1"/></feComponentTransfer></filter>
<g transform="translate(539 5.5)">
<g clip-path="url(#clipbox)"><g filter="url(#fC)"><rect x="-30" y="-30" width="237" height="237.5" fill="rgb(61,61,61)"/><g transform="translate(88.3 88.8)"><ellipse cx="0" cy="-48" rx="60" ry="10" fill="rgb(69,69,69)"/><ellipse cx="-84" cy="-84" rx="16" ry="16" fill="rgb(10,10,10)"/><ellipse cx="-76" cy="-74" rx="22" ry="22" fill="rgb(33,33,33)"/><ellipse cx="58" cy="-58" rx="16" ry="9" fill="rgb(46,46,46)"/><ellipse cx="-64" cy="-46" rx="18" ry="5" fill="rgb(48,48,48)"/><ellipse cx="-84" cy="-20" rx="6" ry="30" fill="rgb(48,48,48)"/><ellipse cx="74" cy="-84" rx="22" ry="9" fill="rgb(31,31,31)"/><ellipse cx="0" cy="-64" rx="38" ry="4" fill="rgb(38,38,38)"/><g transform="rotate(180)"><ellipse cx="0" cy="-48" rx="60" ry="10" fill="rgb(69,69,69)"/><ellipse cx="-84" cy="-84" rx="16" ry="16" fill="rgb(10,10,10)"/><ellipse cx="-76" cy="-74" rx="22" ry="22" fill="rgb(33,33,33)"/><ellipse cx="58" cy="-58" rx="16" ry="9" fill="rgb(46,46,46)"/><ellipse cx="-64" cy="-46" rx="18" ry="5" fill="rgb(48,48,48)"/><ellipse cx="-84" cy="-20" rx="6" ry="30" fill="rgb(48,48,48)"/><ellipse cx="74" cy="-84" rx="22" ry="9" fill="rgb(31,31,31)"/><ellipse cx="0" cy="-64" rx="38" ry="4" fill="rgb(38,38,38)"/></g><ellipse cx="0" cy="-78" rx="36" ry="8" fill="rgb(97,97,97)"/><ellipse cx="-64" cy="-3" rx="22" ry="24" fill="rgb(92,92,92)"/><ellipse cx="-57" cy="-3" rx="10" ry="14" fill="rgb(102,102,102)"/><g transform="rotate(180)"><ellipse cx="0" cy="-78" rx="36" ry="8" fill="rgb(97,97,97)"/><ellipse cx="-64" cy="-3" rx="22" ry="24" fill="rgb(92,92,92)"/><ellipse cx="-57" cy="-3" rx="10" ry="14" fill="rgb(102,102,102)"/></g><rect x="-48" y="-58" width="96" height="116" rx="42" fill="rgb(107,107,107)"/><rect x="-44" y="-53" width="88" height="106" rx="38" fill="rgb(125,125,125)"/><ellipse cx="0" cy="-34" rx="43" ry="14" fill="rgb(156,156,156)"/><ellipse cx="-1" cy="-33" rx="30" ry="8.5" fill="rgb(176,176,176)"/><ellipse cx="-1" cy="-33" rx="18" ry="5" fill="rgb(186,186,186)"/><g transform="rotate(180)"><ellipse cx="0" cy="-34" rx="43" ry="14" fill="rgb(156,156,156)"/><ellipse cx="-1" cy="-33" rx="30" ry="8.5" fill="rgb(176,176,176)"/><ellipse cx="-1" cy="-33" rx="18" ry="5" fill="rgb(186,186,186)"/></g><ellipse cx="0" cy="-19.5" rx="36" ry="2.2" fill="rgb(102,102,102)"/><g transform="rotate(180)"><ellipse cx="0" cy="-19.5" rx="36" ry="2.2" fill="rgb(102,102,102)"/></g><ellipse cx="0" cy="0" rx="40" ry="16.5" fill="rgb(148,148,148)"/><ellipse cx="0" cy="0" rx="33" ry="16" fill="url(#coreC)"/></g></g>
<use href="#uv" transform="translate(88.3 88.8)"/>
<path d="M43.70 0v3M43.70 177.50v-3M0 44.20h3M177.00 44.20h-3M88.30 0v3M88.30 177.50v-3M0 88.80h3M177.00 88.80h-3M132.90 0v3M132.90 177.50v-3M0 133.40h3M177.00 133.40h-3" stroke="#fff" stroke-width="1"/>
<text x="172.7" y="16" text-anchor="end" class="ttl">Model C</text>
</g>
<rect x="0.5" y="0.5" width="176" height="176.5" fill="none" stroke="#000" stroke-width="1"/>
</g>
<rect x="718.00" y="5.50" width="12.4" height="177.50" fill="url(#cbg)" filter="url(#cm)"/><line x1="726.80" x2="730.40" y1="104.00" y2="104.00" stroke="#1a1a2a" stroke-width="1"/><line x1="726.80" x2="730.40" y1="74.35" y2="74.35" stroke="#1a1a2a" stroke-width="1"/><line x1="726.80" x2="730.40" y1="57.00" y2="57.00" stroke="#1a1a2a" stroke-width="1"/><line x1="726.80" x2="730.40" y1="44.70" y2="44.70" stroke="#1a1a2a" stroke-width="1"/><line x1="726.80" x2="730.40" y1="35.15" y2="35.15" stroke="#1a1a2a" stroke-width="1"/><line x1="726.80" x2="730.40" y1="27.35" y2="27.35" stroke="#1a1a2a" stroke-width="1"/><line x1="726.80" x2="730.40" y1="20.76" y2="20.76" stroke="#1a1a2a" stroke-width="1"/><line x1="726.80" x2="730.40" y1="15.05" y2="15.05" stroke="#1a1a2a" stroke-width="1"/><line x1="726.80" x2="730.40" y1="10.01" y2="10.01" stroke="#1a1a2a" stroke-width="1"/><line x1="726.80" x2="730.40" y1="172.85" y2="172.85" stroke="#1a1a2a" stroke-width="1"/><line x1="726.80" x2="730.40" y1="155.50" y2="155.50" stroke="#1a1a2a" stroke-width="1"/><line x1="726.80" x2="730.40" y1="143.20" y2="143.20" stroke="#1a1a2a" stroke-width="1"/><line x1="726.80" x2="730.40" y1="133.65" y2="133.65" stroke="#1a1a2a" stroke-width="1"/><line x1="726.80" x2="730.40" y1="125.85" y2="125.85" stroke="#1a1a2a" stroke-width="1"/><line x1="726.80" x2="730.40" y1="119.26" y2="119.26" stroke="#1a1a2a" stroke-width="1"/><line x1="726.80" x2="730.40" y1="113.55" y2="113.55" stroke="#1a1a2a" stroke-width="1"/><line x1="726.80" x2="730.40" y1="108.51" y2="108.51" stroke="#1a1a2a" stroke-width="1"/><rect x="718.00" y="5.50" width="12.4" height="177.50" fill="none" stroke="#707070" stroke-width="1"/><text x="732.70" y="9.60" class="cb">10<tspan dy="-4.2" font-size="7.8">0</tspan></text><text x="732.90" y="108.10" class="cb">10<tspan dy="-4.6" font-size="8">−1</tspan></text>
<text x="582.70" y="193.10" text-anchor="middle" class="tk">5</text><text x="627.30" y="193.10" text-anchor="middle" class="tk">0</text><text x="671.90" y="193.10" text-anchor="middle" class="tk">−5</text><text x="536.00" y="53.50" text-anchor="end" class="tk">5</text><text x="536.00" y="98.10" text-anchor="end" class="tk">0</text><text x="536.00" y="142.70" text-anchor="end" class="tk">−5</text><text x="627.30" y="204.80" text-anchor="middle" class="t"><tspan font-style="italic">u</tspan> (G <tspan font-style="italic">λ</tspan>)</text><text transform="translate(518.20 94.00) rotate(-90)" text-anchor="middle" class="t"><tspan font-style="italic">v</tspan> (G <tspan font-style="italic">λ</tspan>)</text>
<filter id="fD" x="-0.2" y="-0.2" width="1.4" height="1.4" color-interpolation-filters="sRGB"><feGaussianBlur stdDeviation="3"/><feComponentTransfer><feFuncR type="table" tableValues="0 0 0 0 0 0 0 0 0 0 0 0 0 0 0 0 0 0 0 0 0 0 0 0 0 0.003922 0.007843 0.01176 0.01569 0.01961 0.02353 0.02745 0.03137 0.08824 0.1451 0.202 0.2588 0.3157 0.3725 0.4203 0.468 0.5157 0.5634 0.6111 0.6588 0.7007 0.7425 0.7843 0.8261 0.868 0.9098 0.9227 0.9356 0.9485 0.9613 0.9742 0.9871 1 1 1 1 1 1 1 1 1 1 1 1 1 1 1 1 1 1 1 1 1 1 1 1 1 1 1 1 1 1 1 1 1 1 1 1 1 1 1 1 1 1 1 1"/><feFuncG type="table" tableValues="0 0.003137 0.006275 0.009412 0.01255 0.01569 0.02353 0.03137 0.03922 0.04706 0.0549 0.06499 0.07507 0.08515 0.09524 0.1053 0.1154 0.1255 0.1345 0.1434 0.1524 0.1613 0.1703 0.1793 0.1882 0.1902 0.1922 0.1941 0.1961 0.198 0.2 0.202 0.2039 0.2013 0.1987 0.1961 0.1935 0.1908 0.1882 0.183 0.1778 0.1725 0.1673 0.1621 0.1569 0.1503 0.1438 0.1373 0.1307 0.1242 0.1176 0.1333 0.149 0.1647 0.1804 0.1961 0.2118 0.2275 0.2555 0.2835 0.3115 0.3395 0.3675 0.3955 0.4235 0.4444 0.4654 0.4863 0.5072 0.5281 0.549 0.5686 0.5882 0.6078 0.6275 0.6471 0.6667 0.6838 0.701 0.7181 0.7353 0.7525 0.7696 0.7868 0.8039 0.8211 0.8382 0.8554 0.8725 0.8897 0.9069 0.924 0.9412 0.9529 0.9647 0.9765 0.9882 0.9912 0.9941 0.9971 1"/><feFuncB type="table" tableValues="0.03137 0.06824 0.1051 0.142 0.1788 0.2157 0.2667 0.3176 0.3686 0.4196 0.4706 0.5154 0.5602 0.605 0.6499 0.6947 0.7395 0.7843 0.8123 0.8403 0.8683 0.8964 0.9244 0.9524 0.9804 0.9828 0.9853 0.9877 0.9902 0.9926 0.9951 0.9975 1 1 1 1 1 1 1 1 1 1 1 1 1 0.9902 0.9804 0.9706 0.9608 0.951 0.9412 0.9143 0.8874 0.8605 0.8336 0.8067 0.7798 0.7529 0.7171 0.6812 0.6454 0.6095 0.5737 0.5378 0.502 0.4706 0.4392 0.4078 0.3765 0.3451 0.3137 0.2758 0.2379 0.2 0.1621 0.1242 0.08627 0.07549 0.06471 0.05392 0.04314 0.03235 0.02157 0.01078 0 0 0 0 0 0 0 0 0 0.1078 0.2157 0.3235 0.4314 0.5735 0.7157 0.8578 1"/></feComponentTransfer></filter>
<g transform="translate(156.8 221.5)">
<g clip-path="url(#clipbox)"><g filter="url(#fD)"><rect x="-30" y="-30" width="237" height="237.5" fill="rgb(59,59,59)"/><g transform="translate(88.3 88.8)"><ellipse cx="-20" cy="-40" rx="50" ry="40" fill="rgb(71,71,71)"/><ellipse cx="60" cy="-40" rx="25" ry="40" fill="rgb(69,69,69)"/><ellipse cx="-80" cy="8" rx="12" ry="60" fill="rgb(69,69,69)"/><g transform="rotate(180)"><ellipse cx="-20" cy="-40" rx="50" ry="40" fill="rgb(71,71,71)"/><ellipse cx="60" cy="-40" rx="25" ry="40" fill="rgb(69,69,69)"/><ellipse cx="-80" cy="8" rx="12" ry="60" fill="rgb(69,69,69)"/></g><ellipse cx="0" cy="86" rx="70" ry="9" fill="rgb(31,31,31)"/><ellipse cx="-40" cy="82" rx="30" ry="8" fill="rgb(38,38,38)"/><ellipse cx="-82" cy="-82" rx="14" ry="16" fill="rgb(13,13,13)"/><ellipse cx="-72" cy="-80" rx="22" ry="14" fill="rgb(31,31,31)"/><ellipse cx="82" cy="-84" rx="12" ry="10" fill="rgb(31,31,31)"/><ellipse cx="50" cy="-84" rx="30" ry="8" fill="rgb(31,31,31)"/><ellipse cx="0" cy="-80" rx="26" ry="7" fill="rgb(92,92,92)"/><ellipse cx="-64" cy="-4" rx="11" ry="12" fill="rgb(97,97,97)"/><g transform="rotate(180)"><ellipse cx="-82" cy="-82" rx="14" ry="16" fill="rgb(13,13,13)"/><ellipse cx="-72" cy="-80" rx="22" ry="14" fill="rgb(31,31,31)"/><ellipse cx="82" cy="-84" rx="12" ry="10" fill="rgb(31,31,31)"/><ellipse cx="50" cy="-84" rx="30" ry="8" fill="rgb(31,31,31)"/><ellipse cx="0" cy="-80" rx="26" ry="7" fill="rgb(92,92,92)"/><ellipse cx="-64" cy="-4" rx="11" ry="12" fill="rgb(97,97,97)"/></g><rect x="-52" y="-58" width="104" height="116" rx="30" fill="rgb(107,107,107)"/><rect x="-46" y="-54" width="92" height="108" rx="26" fill="rgb(128,128,128)"/><rect x="-40" y="-48" width="80" height="96" rx="22" fill="rgb(140,140,140)"/><ellipse cx="0" cy="-2" rx="30" ry="42" fill="rgb(148,148,148)"/><ellipse cx="9" cy="-28" rx="10" ry="4.5" fill="rgb(102,102,102)"/><g transform="rotate(180)"><ellipse cx="9" cy="-28" rx="10" ry="4.5" fill="rgb(102,102,102)"/></g><ellipse cx="0" cy="0" rx="34" ry="21" fill="rgb(173,173,173)"/><ellipse cx="0" cy="-0.5" rx="29" ry="15.5" fill="url(#coreD)"/></g></g>
<use href="#uv" transform="translate(88.3 88.8)"/>
<path d="M43.70 0v3M43.70 177.50v-3M0 44.20h3M177.00 44.20h-3M88.30 0v3M88.30 177.50v-3M0 88.80h3M177.00 88.80h-3M132.90 0v3M132.90 177.50v-3M0 133.40h3M177.00 133.40h-3" stroke="#fff" stroke-width="1"/>
<text x="172.7" y="16" text-anchor="end" class="ttl">Model D</text>
</g>
<rect x="0.5" y="0.5" width="176" height="176.5" fill="none" stroke="#000" stroke-width="1"/>
</g>
<rect x="335.80" y="221.50" width="12.4" height="177.50" fill="url(#cbg)" filter="url(#cm)"/><line x1="344.60" x2="348.20" y1="320.00" y2="320.00" stroke="#1a1a2a" stroke-width="1"/><line x1="344.60" x2="348.20" y1="290.35" y2="290.35" stroke="#1a1a2a" stroke-width="1"/><line x1="344.60" x2="348.20" y1="273.00" y2="273.00" stroke="#1a1a2a" stroke-width="1"/><line x1="344.60" x2="348.20" y1="260.70" y2="260.70" stroke="#1a1a2a" stroke-width="1"/><line x1="344.60" x2="348.20" y1="251.15" y2="251.15" stroke="#1a1a2a" stroke-width="1"/><line x1="344.60" x2="348.20" y1="243.35" y2="243.35" stroke="#1a1a2a" stroke-width="1"/><line x1="344.60" x2="348.20" y1="236.76" y2="236.76" stroke="#1a1a2a" stroke-width="1"/><line x1="344.60" x2="348.20" y1="231.05" y2="231.05" stroke="#1a1a2a" stroke-width="1"/><line x1="344.60" x2="348.20" y1="226.01" y2="226.01" stroke="#1a1a2a" stroke-width="1"/><line x1="344.60" x2="348.20" y1="388.85" y2="388.85" stroke="#1a1a2a" stroke-width="1"/><line x1="344.60" x2="348.20" y1="371.50" y2="371.50" stroke="#1a1a2a" stroke-width="1"/><line x1="344.60" x2="348.20" y1="359.20" y2="359.20" stroke="#1a1a2a" stroke-width="1"/><line x1="344.60" x2="348.20" y1="349.65" y2="349.65" stroke="#1a1a2a" stroke-width="1"/><line x1="344.60" x2="348.20" y1="341.85" y2="341.85" stroke="#1a1a2a" stroke-width="1"/><line x1="344.60" x2="348.20" y1="335.26" y2="335.26" stroke="#1a1a2a" stroke-width="1"/><line x1="344.60" x2="348.20" y1="329.55" y2="329.55" stroke="#1a1a2a" stroke-width="1"/><line x1="344.60" x2="348.20" y1="324.51" y2="324.51" stroke="#1a1a2a" stroke-width="1"/><rect x="335.80" y="221.50" width="12.4" height="177.50" fill="none" stroke="#707070" stroke-width="1"/><text x="350.50" y="225.60" class="cb">10<tspan dy="-4.2" font-size="7.8">0</tspan></text><text x="350.70" y="324.10" class="cb">10<tspan dy="-4.6" font-size="8">−1</tspan></text>
<text x="200.50" y="409.10" text-anchor="middle" class="tk">5</text><text x="245.10" y="409.10" text-anchor="middle" class="tk">0</text><text x="289.70" y="409.10" text-anchor="middle" class="tk">−5</text><text x="153.80" y="269.50" text-anchor="end" class="tk">5</text><text x="153.80" y="314.10" text-anchor="end" class="tk">0</text><text x="153.80" y="358.70" text-anchor="end" class="tk">−5</text><text x="245.10" y="420.80" text-anchor="middle" class="t"><tspan font-style="italic">u</tspan> (G <tspan font-style="italic">λ</tspan>)</text><text transform="translate(136.00 310.00) rotate(-90)" text-anchor="middle" class="t"><tspan font-style="italic">v</tspan> (G <tspan font-style="italic">λ</tspan>)</text>
<filter id="fE" x="-0.2" y="-0.2" width="1.4" height="1.4" color-interpolation-filters="sRGB"><feGaussianBlur stdDeviation="3"/><feComponentTransfer><feFuncR type="table" tableValues="0 0 0 0 0 0 0 0 0 0 0 0 0 0 0 0 0 0 0 0 0 0 0 0 0 0.003922 0.007843 0.01176 0.01569 0.01961 0.02353 0.02745 0.03137 0.08824 0.1451 0.202 0.2588 0.3157 0.3725 0.4203 0.468 0.5157 0.5634 0.6111 0.6588 0.7007 0.7425 0.7843 0.8261 0.868 0.9098 0.9227 0.9356 0.9485 0.9613 0.9742 0.9871 1 1 1 1 1 1 1 1 1 1 1 1 1 1 1 1 1 1 1 1 1 1 1 1 1 1 1 1 1 1 1 1 1 1 1 1 1 1 1 1 1 1 1 1"/><feFuncG type="table" tableValues="0 0.003137 0.006275 0.009412 0.01255 0.01569 0.02353 0.03137 0.03922 0.04706 0.0549 0.06499 0.07507 0.08515 0.09524 0.1053 0.1154 0.1255 0.1345 0.1434 0.1524 0.1613 0.1703 0.1793 0.1882 0.1902 0.1922 0.1941 0.1961 0.198 0.2 0.202 0.2039 0.2013 0.1987 0.1961 0.1935 0.1908 0.1882 0.183 0.1778 0.1725 0.1673 0.1621 0.1569 0.1503 0.1438 0.1373 0.1307 0.1242 0.1176 0.1333 0.149 0.1647 0.1804 0.1961 0.2118 0.2275 0.2555 0.2835 0.3115 0.3395 0.3675 0.3955 0.4235 0.4444 0.4654 0.4863 0.5072 0.5281 0.549 0.5686 0.5882 0.6078 0.6275 0.6471 0.6667 0.6838 0.701 0.7181 0.7353 0.7525 0.7696 0.7868 0.8039 0.8211 0.8382 0.8554 0.8725 0.8897 0.9069 0.924 0.9412 0.9529 0.9647 0.9765 0.9882 0.9912 0.9941 0.9971 1"/><feFuncB type="table" tableValues="0.03137 0.06824 0.1051 0.142 0.1788 0.2157 0.2667 0.3176 0.3686 0.4196 0.4706 0.5154 0.5602 0.605 0.6499 0.6947 0.7395 0.7843 0.8123 0.8403 0.8683 0.8964 0.9244 0.9524 0.9804 0.9828 0.9853 0.9877 0.9902 0.9926 0.9951 0.9975 1 1 1 1 1 1 1 1 1 1 1 1 1 0.9902 0.9804 0.9706 0.9608 0.951 0.9412 0.9143 0.8874 0.8605 0.8336 0.8067 0.7798 0.7529 0.7171 0.6812 0.6454 0.6095 0.5737 0.5378 0.502 0.4706 0.4392 0.4078 0.3765 0.3451 0.3137 0.2758 0.2379 0.2 0.1621 0.1242 0.08627 0.07549 0.06471 0.05392 0.04314 0.03235 0.02157 0.01078 0 0 0 0 0 0 0 0 0 0.1078 0.2157 0.3235 0.4314 0.5735 0.7157 0.8578 1"/></feComponentTransfer></filter>
<g transform="translate(411.8 221.5)">
<g clip-path="url(#clipbox)"><g filter="url(#fE)"><rect x="-30" y="-30" width="237" height="237.5" fill="rgb(56,56,56)"/><g transform="translate(88.3 88.8)"><ellipse cx="-20" cy="-40" rx="50" ry="40" fill="rgb(69,69,69)"/><ellipse cx="60" cy="-40" rx="25" ry="40" fill="rgb(66,66,66)"/><ellipse cx="-60" cy="-45" rx="25" ry="10" fill="rgb(76,76,76)"/><g transform="rotate(180)"><ellipse cx="-20" cy="-40" rx="50" ry="40" fill="rgb(69,69,69)"/><ellipse cx="60" cy="-40" rx="25" ry="40" fill="rgb(66,66,66)"/><ellipse cx="-60" cy="-45" rx="25" ry="10" fill="rgb(76,76,76)"/></g><ellipse cx="0" cy="87" rx="60" ry="8" fill="rgb(33,33,33)"/><ellipse cx="0" cy="70" rx="22" ry="3" fill="rgb(31,31,31)"/><ellipse cx="-68" cy="-74" rx="30" ry="22" fill="rgb(28,28,28)"/><ellipse cx="-84" cy="-84" rx="14" ry="14" fill="rgb(10,10,10)"/><ellipse cx="-70" cy="-34" rx="8" ry="16" fill="rgb(31,31,31)" transform="rotate(40 -70 -34)"/><ellipse cx="-74" cy="-2" rx="14" ry="18" fill="rgb(92,92,92)"/><ellipse cx="52" cy="-70" rx="10" ry="7" fill="rgb(33,33,33)"/><ellipse cx="0" cy="-80" rx="28" ry="8" fill="rgb(94,94,94)"/><g transform="rotate(180)"><ellipse cx="-68" cy="-74" rx="30" ry="22" fill="rgb(28,28,28)"/><ellipse cx="-84" cy="-84" rx="14" ry="14" fill="rgb(10,10,10)"/><ellipse cx="-70" cy="-34" rx="8" ry="16" fill="rgb(31,31,31)" transform="rotate(40 -70 -34)"/><ellipse cx="-74" cy="-2" rx="14" ry="18" fill="rgb(92,92,92)"/><ellipse cx="52" cy="-70" rx="10" ry="7" fill="rgb(33,33,33)"/><ellipse cx="0" cy="-80" rx="28" ry="8" fill="rgb(94,94,94)"/></g><path d="M-54,0 L-63,-18 L-62,-40 L-50,-56 L-35,-63 L0,-63 L36,-60 L48,-46 L54,-24 L54,0 L54,0 L63,18 L62,40 L50,56 L35,63 L0,63 L-36,60 L-48,46 L-54,24 L-54,0Z" fill="rgb(107,107,107)"/><path d="M-47,0 L-56,-18 L-55,-38 L-44,-52 L-30,-58 L0,-58 L30,-55 L41,-42 L47,-22 L47,0 L47,0 L56,18 L55,38 L44,52 L30,58 L0,58 L-30,55 L-41,42 L-47,22 L-47,0Z" fill="rgb(128,128,128)"/><path d="M-40,0 L-47,-18 L-46,-36 L-37,-46 L-28,-51 L0,-51 L25,-48 L34,-36 L40,-18 L40,0 L40,0 L47,18 L46,36 L37,46 L28,51 L0,51 L-25,48 L-34,36 L-40,18 L-40,0Z" fill="rgb(140,140,140)"/><ellipse cx="-6" cy="-36" rx="26" ry="12" fill="rgb(145,145,145)"/><g transform="rotate(180)"><ellipse cx="-6" cy="-36" rx="26" ry="12" fill="rgb(145,145,145)"/></g><ellipse cx="14" cy="-26.5" rx="19" ry="3.5" fill="rgb(71,71,71)"/><ellipse cx="34" cy="-26" rx="10" ry="5" fill="rgb(107,107,107)"/><g transform="rotate(180)"><ellipse cx="14" cy="-26.5" rx="19" ry="3.5" fill="rgb(71,71,71)"/><ellipse cx="34" cy="-26" rx="10" ry="5" fill="rgb(107,107,107)"/></g><ellipse cx="0" cy="0" rx="38" ry="22" fill="rgb(173,173,173)"/><ellipse cx="0" cy="-0.5" rx="34" ry="16" fill="url(#coreD)" transform="rotate(4 0 -0.5)"/></g></g>
<use href="#uv" transform="translate(88.3 88.8)"/>
<path d="M43.70 0v3M43.70 177.50v-3M0 44.20h3M177.00 44.20h-3M88.30 0v3M88.30 177.50v-3M0 88.80h3M177.00 88.80h-3M132.90 0v3M132.90 177.50v-3M0 133.40h3M177.00 133.40h-3" stroke="#fff" stroke-width="1"/>
<text x="172.7" y="16" text-anchor="end" class="ttl">Model E</text>
</g>
<rect x="0.5" y="0.5" width="176" height="176.5" fill="none" stroke="#000" stroke-width="1"/>
</g>
<rect x="590.80" y="221.50" width="12.4" height="177.50" fill="url(#cbg)" filter="url(#cm)"/><line x1="599.60" x2="603.20" y1="320.00" y2="320.00" stroke="#1a1a2a" stroke-width="1"/><line x1="599.60" x2="603.20" y1="290.35" y2="290.35" stroke="#1a1a2a" stroke-width="1"/><line x1="599.60" x2="603.20" y1="273.00" y2="273.00" stroke="#1a1a2a" stroke-width="1"/><line x1="599.60" x2="603.20" y1="260.70" y2="260.70" stroke="#1a1a2a" stroke-width="1"/><line x1="599.60" x2="603.20" y1="251.15" y2="251.15" stroke="#1a1a2a" stroke-width="1"/><line x1="599.60" x2="603.20" y1="243.35" y2="243.35" stroke="#1a1a2a" stroke-width="1"/><line x1="599.60" x2="603.20" y1="236.76" y2="236.76" stroke="#1a1a2a" stroke-width="1"/><line x1="599.60" x2="603.20" y1="231.05" y2="231.05" stroke="#1a1a2a" stroke-width="1"/><line x1="599.60" x2="603.20" y1="226.01" y2="226.01" stroke="#1a1a2a" stroke-width="1"/><line x1="599.60" x2="603.20" y1="388.85" y2="388.85" stroke="#1a1a2a" stroke-width="1"/><line x1="599.60" x2="603.20" y1="371.50" y2="371.50" stroke="#1a1a2a" stroke-width="1"/><line x1="599.60" x2="603.20" y1="359.20" y2="359.20" stroke="#1a1a2a" stroke-width="1"/><line x1="599.60" x2="603.20" y1="349.65" y2="349.65" stroke="#1a1a2a" stroke-width="1"/><line x1="599.60" x2="603.20" y1="341.85" y2="341.85" stroke="#1a1a2a" stroke-width="1"/><line x1="599.60" x2="603.20" y1="335.26" y2="335.26" stroke="#1a1a2a" stroke-width="1"/><line x1="599.60" x2="603.20" y1="329.55" y2="329.55" stroke="#1a1a2a" stroke-width="1"/><line x1="599.60" x2="603.20" y1="324.51" y2="324.51" stroke="#1a1a2a" stroke-width="1"/><rect x="590.80" y="221.50" width="12.4" height="177.50" fill="none" stroke="#707070" stroke-width="1"/><text x="605.50" y="225.60" class="cb">10<tspan dy="-4.2" font-size="7.8">0</tspan></text><text x="605.70" y="324.10" class="cb">10<tspan dy="-4.6" font-size="8">−1</tspan></text>
<text x="455.50" y="409.10" text-anchor="middle" class="tk">5</text><text x="500.10" y="409.10" text-anchor="middle" class="tk">0</text><text x="544.70" y="409.10" text-anchor="middle" class="tk">−5</text><text x="408.80" y="269.50" text-anchor="end" class="tk">5</text><text x="408.80" y="314.10" text-anchor="end" class="tk">0</text><text x="408.80" y="358.70" text-anchor="end" class="tk">−5</text><text x="500.10" y="420.80" text-anchor="middle" class="t"><tspan font-style="italic">u</tspan> (G <tspan font-style="italic">λ</tspan>)</text><text transform="translate(391.00 310.00) rotate(-90)" text-anchor="middle" class="t"><tspan font-style="italic">v</tspan> (G <tspan font-style="italic">λ</tspan>)</text>
</svg></body></html>
